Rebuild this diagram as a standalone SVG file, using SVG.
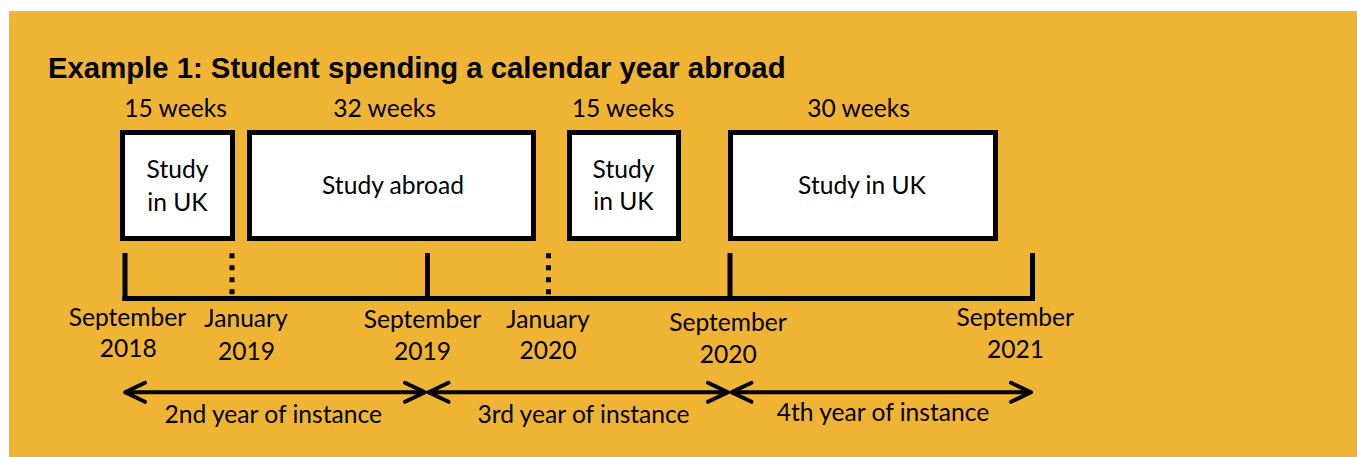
<svg xmlns="http://www.w3.org/2000/svg" width="1357" height="457" viewBox="0 0 1357 457">
  <defs>
    <style>
      .bg { fill: #F0B434; }
      .box { fill: #FFFFFF; stroke: #000000; stroke-width: 5; }
      .title { font-family: "Liberation Sans", Arial, sans-serif; font-weight: bold; font-size: 29.3px; fill: #000; }
      .t { font-family: Lato, "Liberation Sans", sans-serif; font-size: 24.6px; fill: #000; text-anchor: middle; }
      .tick { stroke: #000; stroke-width: 5; fill: none; }
      .dot { stroke: #000; stroke-width: 5; stroke-dasharray: 5 7; fill: none; }
      .arrow { stroke: #000; stroke-width: 4; fill: none; marker-start: url(#chev); marker-end: url(#chev); }
    </style>
    <marker id="chev" markerUnits="userSpaceOnUse" viewBox="-26 -14 30 28" refX="0" refY="0" markerWidth="30" markerHeight="28" orient="auto-start-reverse">
      <path d="M -20 -9.5 L 0 0 L -20 9.5" fill="none" stroke="#000" stroke-width="4" stroke-linecap="round" stroke-linejoin="round"/>
    </marker>
  </defs>

  <rect class="bg" x="9" y="11" width="1348" height="446"/>

  <text class="title" x="48" y="78">Example 1: Student spending a calendar year abroad</text>

  <g id="node-study-uk-1">
    <text class="t" x="175.5" y="117">15 weeks</text>
    <rect class="box" x="122.5" y="132.5" width="110" height="106"/>
    <text class="t" x="177.5" y="177.5">Study</text>
    <text class="t" x="177.5" y="210.5">in UK</text>
  </g>

  <g id="node-study-abroad">
    <text class="t" x="384.5" y="117">32 weeks</text>
    <rect class="box" x="249.5" y="132.5" width="284" height="106"/>
    <text class="t" x="393" y="194">Study abroad</text>
  </g>

  <g id="node-study-uk-2">
    <text class="t" x="623" y="117">15 weeks</text>
    <rect class="box" x="569.5" y="132.5" width="109" height="106"/>
    <text class="t" x="623.5" y="177.5">Study</text>
    <text class="t" x="623.5" y="210">in UK</text>
  </g>

  <g id="node-study-uk-3">
    <text class="t" x="858.5" y="117">30 weeks</text>
    <rect class="box" x="730.5" y="132.5" width="265" height="106"/>
    <text class="t" x="862" y="194">Study in UK</text>
  </g>

  <g id="timeline">
    <line class="tick" x1="122.5" y1="298.5" x2="1035" y2="298.5"/>
    <line class="tick" x1="125" y1="253" x2="125" y2="301"/>
    <line class="tick" x1="427.5" y1="253" x2="427.5" y2="298"/>
    <line class="tick" x1="730" y1="253" x2="730" y2="298"/>
    <line class="tick" x1="1032.5" y1="253" x2="1032.5" y2="301"/>
    <line class="dot" x1="232" y1="253.3" x2="232" y2="294.3"/>
    <line class="dot" x1="548.5" y1="253.3" x2="548.5" y2="294.3"/>
  </g>

  <g id="dates">
    <text class="t" x="127.5" y="326">September</text>
    <text class="t" x="128.3" y="357.3">2018</text>
    <text class="t" x="246" y="327">January</text>
    <text class="t" x="246.5" y="360">2019</text>
    <text class="t" x="422.5" y="328.3">September</text>
    <text class="t" x="422.5" y="360">2019</text>
    <text class="t" x="548" y="328.3">January</text>
    <text class="t" x="548" y="359.3">2020</text>
    <text class="t" x="728" y="330.7">September</text>
    <text class="t" x="728.3" y="362.7">2020</text>
    <text class="t" x="1015.2" y="325.7">September</text>
    <text class="t" x="1015.5" y="358.3">2021</text>
  </g>

  <g id="connectors">
    <line class="arrow" x1="125" y1="392.3" x2="425" y2="392.3"/>
    <line class="arrow" x1="428.5" y1="392.3" x2="728" y2="392.3"/>
    <line class="arrow" x1="731.5" y1="392.3" x2="1031" y2="392.3"/>
  </g>

  <g id="spans">
    <text class="t" x="273.3" y="422.7">2nd year of instance</text>
    <text class="t" x="583.5" y="422.5">3rd year of instance</text>
    <text class="t" x="883" y="420.7">4th year of instance</text>
  </g>
</svg>
